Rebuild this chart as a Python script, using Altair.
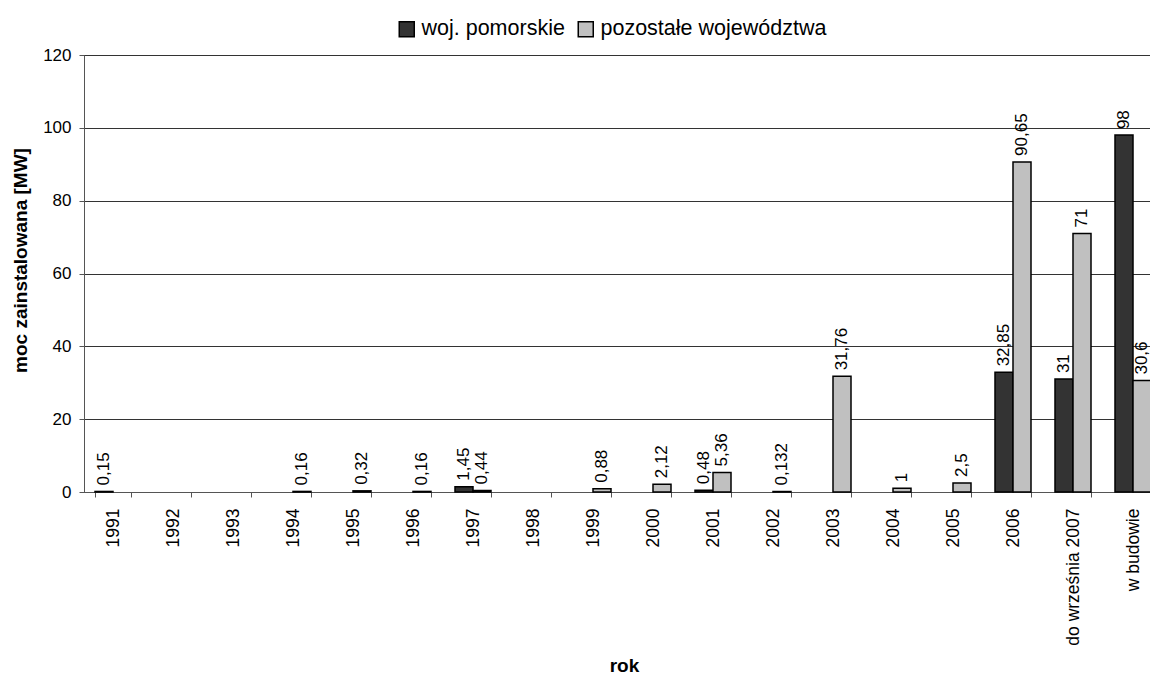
import altair as alt
import pandas as pd

# Installed wind-power capacity per year, split by region
categories = ["1991", "1992", "1993", "1994", "1995", "1996", "1997", "1998", "1999",
              "2000", "2001", "2002", "2003", "2004", "2005", "2006",
              "do września 2007", "w budowie"]
series_names = ["woj. pomorskie", "pozostałe województwa"]
pomorskie = [0.15, None, None, None, None, None, 1.45, None, None,
             None, 0.48, None, None, None, None, 32.85, 31, 98]
pozostale = [None, None, None, 0.16, 0.32, 0.16, 0.44, None, 0.88,
             2.12, 5.36, 0.132, 31.76, 1, 2.5, 90.65, 71, 30.6]
series_colors = ["#333333", "#c0c0c0"]
y_ticks = [0, 20, 40, 60, 80, 100, 120]

FONT = "Liberation Sans"

rows = []
for cat, a, b in zip(categories, pomorskie, pozostale):
    for name, v in ((series_names[0], a), (series_names[1], b)):
        if v is not None:
            rows.append({
                "rok": cat,
                "seria": name,
                "moc": v,
                "etykieta": f"{v:g}".replace(".", ","),
            })
df = pd.DataFrame(rows)

x_enc = alt.X(
    "rok:N",
    sort=categories,
    scale=alt.Scale(domain=categories, range=[-1, 1079], paddingInner=0.4, paddingOuter=0.2),
    axis=alt.Axis(
        title="rok",
        titleFont=FONT, titleFontSize=19, titleFontWeight="bold", titleColor="black",
        titleX=540, titleY=173, titleAlign="center", titleBaseline="middle",
        labelAngle=270, labelAlign="right", labelBaseline="middle",
        labelFont=FONT, labelFontSize=17.5, labelColor="black", labelPadding=11,
        labelLimit=0,
        tickBand="extent", tickSize=5, tickColor="#555555",
        domainColor="#555555", domainWidth=1, grid=False,
    ),
)
xoff_enc = alt.XOffset(
    "seria:N", sort=series_names,
    scale=alt.Scale(domain=series_names, paddingInner=0, paddingOuter=0),
)
y_enc = alt.Y(
    "moc:Q",
    scale=alt.Scale(domain=[0, 120], nice=False),
    axis=alt.Axis(
        title="moc zainstalowana [MW]",
        titleFont=FONT, titleFontSize=19, titleFontWeight="bold", titleColor="black",
        titleX=-64, titleY=205, titleAngle=270, titleAlign="center", titleBaseline="middle",
        values=y_ticks, labelFont=FONT, labelFontSize=17, labelColor="black", labelPadding=8,
        tickSize=5, tickColor="#555555", domainColor="#555555", domainWidth=1,
        grid=True, gridColor="#333333", gridWidth=1,
    ),
)

bars = alt.Chart(df).mark_bar(stroke="black", strokeWidth=1.5).encode(
    x=x_enc,
    xOffset=xoff_enc,
    y=y_enc,
    color=alt.Color(
        "seria:N",
        sort=series_names,
        scale=alt.Scale(domain=series_names, range=series_colors),
        legend=alt.Legend(
            title=None, orient="none", legendX=312, legendY=-37, direction="horizontal",
            labelFont=FONT, labelFontSize=21.5, labelColor="black", labelOffset=4,
            labelLimit=0,
            symbolType="square", symbolSize=225, symbolStrokeColor="black",
            symbolStrokeWidth=1.5, symbolOpacity=1, columnPadding=10, padding=0,
        ),
    ),
)

labels = alt.Chart(df).mark_text(
    angle=270, align="left", baseline="middle", dx=6,
    font=FONT, fontSize=17, color="black",
).encode(
    x=x_enc,
    xOffset=xoff_enc,
    y=y_enc,
    text="etykieta:N",
)

chart = alt.layer(bars, labels).properties(
    width=1066,
    height=437,
    padding={"left": 84, "top": 55, "right": 0, "bottom": 184},
    autosize=alt.AutoSizeParams(type="none"),
    background="white",
).configure_view(stroke=None)

chart.save("out.html", embed_options={"renderer": "svg", "actions": False})
